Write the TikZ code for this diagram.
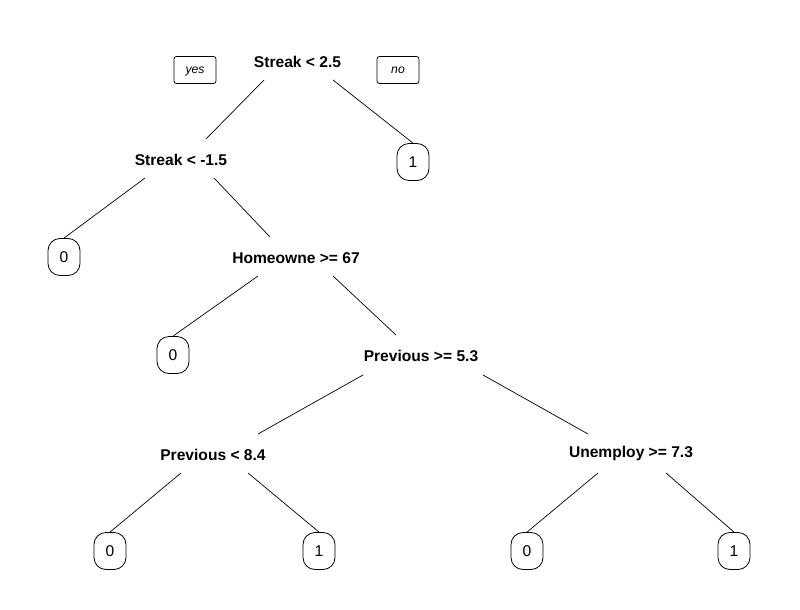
\documentclass[tikz,border=0pt]{standalone}
\usepackage{fontspec}
\setmainfont{Liberation Sans}
\begin{document}
\begin{tikzpicture}[x=1pt,y=-1pt,
  split/.style={font=\fontsize{15.6}{18}\selectfont\bfseries, inner sep=0pt},
  leaf/.style={draw, line width=0.8pt, rounded corners=12pt, minimum width=32pt,
    minimum height=37pt, inner sep=0pt, font=\fontsize{15.6}{18}\selectfont},
  tag/.style={draw, line width=0.8pt, rounded corners=2.5pt, minimum width=42pt,
    minimum height=27pt, inner sep=0pt, text height=9pt, text depth=2.5pt,
    font=\fontsize{12.2}{14}\selectfont\itshape},
  branch/.style={line width=0.7pt}]
\useasboundingbox (0,0) rectangle (800,610);

% split labels
\node[split] (root) at (297.5,62) {Streak < 2.5};
\node[split] (s2)   at (181,160)  {Streak < -1.5};
\node[split] (s3)   at (296,258)  {Homeowne >= 67};
\node[split] (s4)   at (421,356)  {Previous >= 5.3};
\node[split] (s5)   at (213,455)  {Previous < 8.4};
\node[split] (s6)   at (631,453)  {Unemploy >= 7.3};

% direction tags
\node[tag] (yes) at (195,70) {yes};
\node[tag] (no)  at (398,70) {no};

% leaves
\node[leaf] (l1) at (413,162) {1};
\node[leaf] (l2) at (64,257)  {0};
\node[leaf] (l3) at (173,355) {0};
\node[leaf] (l4) at (110,551) {0};
\node[leaf] (l5) at (319,551) {1};
\node[leaf] (l6) at (527,551) {0};
\node[leaf] (l7) at (734,551) {1};

% branches
\draw[branch] ([shift={(-33.5,18)}]root.center) -- ([shift={(25,-21)}]s2.center);
\draw[branch] ([shift={(35.5,18)}]root.center) -- (l1.north);
\draw[branch] ([shift={(-36,18)}]s2.center) -- (l2.north);
\draw[branch] ([shift={(33,18)}]s2.center) -- ([shift={(-26,-21)}]s3.center);
\draw[branch] ([shift={(-38,18)}]s3.center) -- (l3.north);
\draw[branch] ([shift={(37,18)}]s3.center) -- ([shift={(-25,-21)}]s4.center);
\draw[branch] ([shift={(-58,19)}]s4.center) -- ([shift={(45,-21)}]s5.center);
\draw[branch] ([shift={(62,19)}]s4.center) -- ([shift={(-43,-19)}]s6.center);
\draw[branch] ([shift={(-32,18)}]s5.center) -- (l4.north);
\draw[branch] ([shift={(35,18)}]s5.center) -- (l5.north);
\draw[branch] ([shift={(-33,20)}]s6.center) -- (l6.north);
\draw[branch] ([shift={(35,20)}]s6.center) -- (l7.north);
\end{tikzpicture}
\end{document}
